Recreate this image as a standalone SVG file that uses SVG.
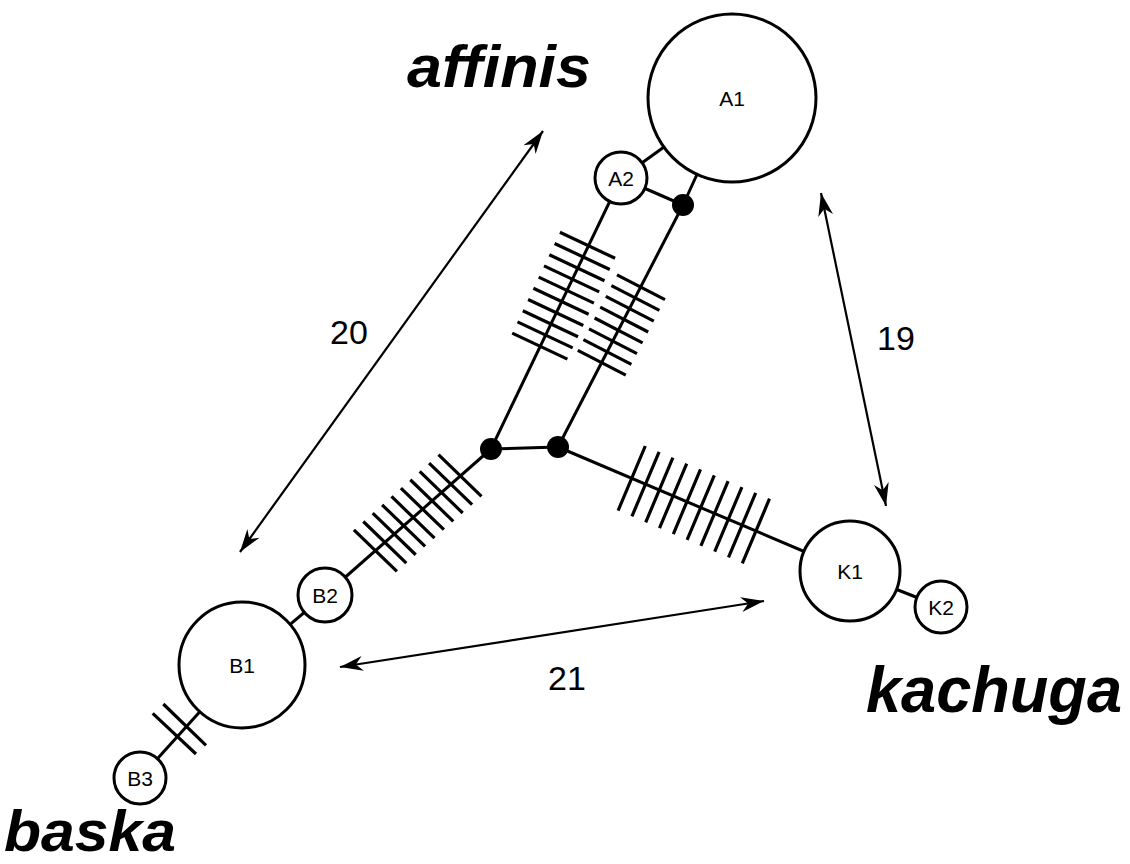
<svg xmlns="http://www.w3.org/2000/svg" width="1130" height="864" viewBox="0 0 1130 864">
<defs>
<style>
.edge{stroke:#000;stroke-width:3;fill:none}
.hash{stroke:#000;stroke-width:3.2;fill:none}
.arr{stroke:#000;stroke-width:2.2;fill:none}
.node{fill:#fff;stroke:#000;stroke-width:3}
.dot{fill:#000}
.nl{font-family:"Liberation Sans",Arial,sans-serif;font-size:21px;text-anchor:middle;fill:#000}
.sp{font-family:"Liberation Sans",Arial,sans-serif;font-weight:bold;font-style:italic;fill:#000}
.num{font-family:"Liberation Sans",Arial,sans-serif;font-size:34px;fill:#000}
</style>
<marker id="ah" viewBox="-24 -9 26 18" markerWidth="26" markerHeight="18" refX="0" refY="0" orient="auto-start-reverse" markerUnits="userSpaceOnUse">
<path d="M0,0 L-23,-7.5 L-16,0 L-23,7.5 Z" fill="#000"/>
</marker>
</defs>
<rect width="1130" height="864" fill="#fff"/>
<g id="connectors">
<line class="edge" x1="732" y1="98" x2="621" y2="178"/>
<line class="edge" x1="621" y1="178" x2="683" y2="205"/>
<line class="edge" x1="732" y1="98" x2="683" y2="205"/>
<line class="edge" x1="621" y1="178" x2="491" y2="449"/>
<line class="edge" x1="683" y1="205" x2="558" y2="447"/>
<line class="edge" x1="491" y1="449" x2="558" y2="447"/>
<line class="edge" x1="491" y1="449" x2="325" y2="595"/>
<line class="edge" x1="558" y1="447" x2="850" y2="571"/>
<line class="edge" x1="850" y1="571" x2="941" y2="607"/>
<line class="edge" x1="325" y1="595" x2="242" y2="665"/>
<line class="edge" x1="242" y1="665" x2="140" y2="778"/>
<path class="hash" d="M559.9,232.3 l55.2,26 m-60.5,-14.8 l55.2,26 m-60.5,-14.8 l55.2,26 m-60.5,-14.8 l55.2,26 m-60.5,-14.8 l55.2,26 m-60.5,-14.8 l55.2,26 m-60.5,-14.8 l55.2,26 m-60.5,-14.8 l55.2,26 m-60.5,-14.8 l55.2,26 m-60.5,-14.8 l55.2,26"/>
<path class="hash" d="M617,274.8 l48,24.8 m-53.6,-14 l48,24.8 m-53.6,-14 l48,24.8 m-53.6,-14 l48,24.8 m-53.6,-14 l48,24.8 m-53.6,-14 l48,24.8 m-53.6,-14 l48,24.8 m-53.6,-14 l48,24.8"/>
<path class="hash" d="M438.5,454.7 l43,41.6 m-52.4,-33.25 l43,41.6 m-52.4,-33.25 l43,41.6 m-52.4,-33.25 l43,41.6 m-52.4,-33.25 l43,41.6 m-52.4,-33.25 l43,41.6 m-52.4,-33.25 l43,41.6 m-52.4,-33.25 l43,41.6 m-52.4,-33.25 l43,41.6 m-52.4,-33.25 l43,41.6"/>
<path class="hash" d="M645.3,446 l-27.2,64.6 m41,-58.74 l-27.2,64.6 m41,-58.74 l-27.2,64.6 m41,-58.74 l-27.2,64.6 m41,-58.74 l-27.2,64.6 m41,-58.74 l-27.2,64.6 m41,-58.74 l-27.2,64.6 m41,-58.74 l-27.2,64.6 m41,-58.74 l-27.2,64.6 m41,-58.74 l-27.2,64.6"/>
<path class="hash" d="M152.7,713.3 L196,754 M163.3,704 L206,745.3"/>
<line class="arr" x1="543" y1="131" x2="240" y2="552" marker-start="url(#ah)" marker-end="url(#ah)"/>
<line class="arr" x1="821" y1="193" x2="886" y2="506" marker-start="url(#ah)" marker-end="url(#ah)"/>
<line class="arr" x1="764" y1="601" x2="340" y2="667" marker-start="url(#ah)" marker-end="url(#ah)"/>
</g>
<g id="A1"><circle class="node" cx="732" cy="98" r="84"/><text class="nl" x="732" y="106">A1</text></g>
<g id="A2"><circle class="node" cx="621" cy="178" r="26"/><text class="nl" x="621" y="186">A2</text></g>
<g id="J1"><circle class="dot" cx="683" cy="205" r="11"/></g>
<g id="J2"><circle class="dot" cx="491" cy="449" r="11"/></g>
<g id="J3"><circle class="dot" cx="558" cy="447" r="11"/></g>
<g id="K1"><circle class="node" cx="850" cy="571" r="50"/><text class="nl" x="850" y="579">K1</text></g>
<g id="K2"><circle class="node" cx="941" cy="607" r="26"/><text class="nl" x="941" y="615">K2</text></g>
<g id="B1"><circle class="node" cx="242" cy="665" r="63"/><text class="nl" x="242" y="673">B1</text></g>
<g id="B2"><circle class="node" cx="325" cy="595" r="27"/><text class="nl" x="325" y="603">B2</text></g>
<g id="B3"><circle class="node" cx="140" cy="778" r="26"/><text class="nl" x="140" y="786">B3</text></g>
<g id="labels">
<text class="sp" x="407" y="87" font-size="60" textLength="184" lengthAdjust="spacingAndGlyphs">affinis</text>
<text class="sp" x="4" y="851" font-size="58" textLength="172" lengthAdjust="spacingAndGlyphs">baska</text>
<text class="sp" x="866" y="712" font-size="64" textLength="256" lengthAdjust="spacingAndGlyphs">kachuga</text>
<text class="num" x="330" y="344">20</text>
<text class="num" x="877" y="350">19</text>
<text class="num" x="548" y="690">21</text>
</g>
</svg>
